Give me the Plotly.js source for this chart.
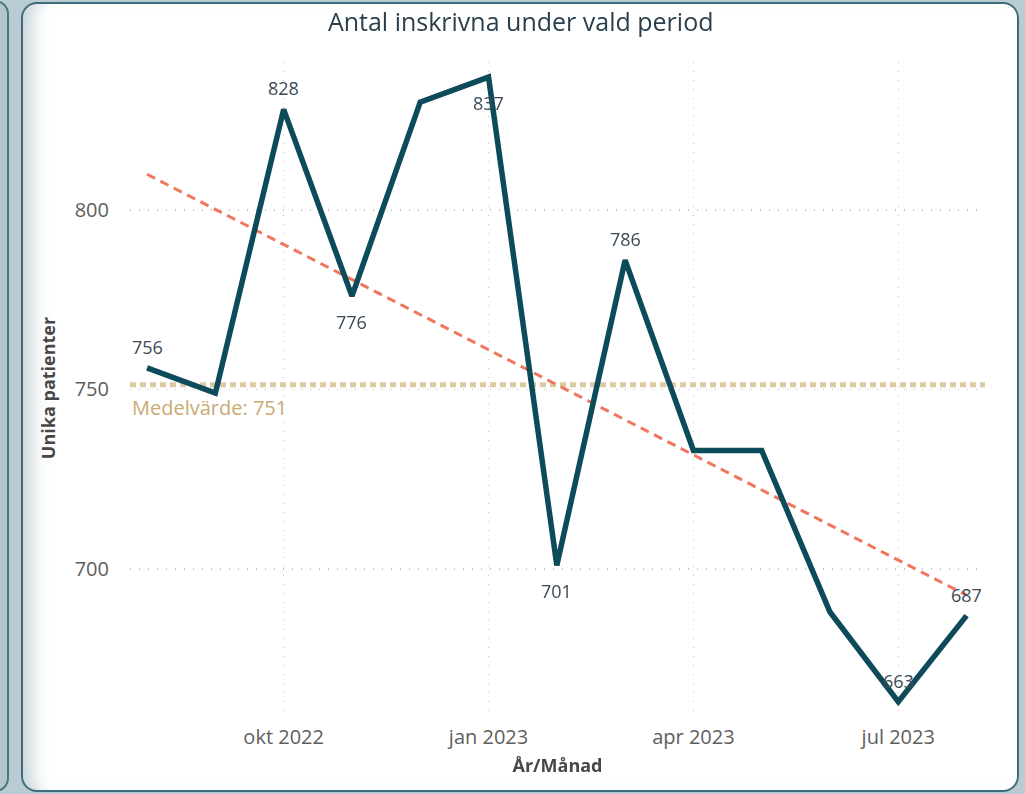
<!DOCTYPE html>
<html>
<head>
<meta charset="utf-8">
<script src="https://cdn.plot.ly/plotly-3.0.1.min.js"></script>
<style>
  html, body { margin:0; padding:0; width:1025px; height:794px; overflow:hidden; background:#b9cbd3; }
  #leftcard { position:absolute; left:-30px; top:0px; width:35px; height:788px; background:#b2c6ce; border:2px solid #4a7685; border-radius:14px; }
  #card { position:absolute; left:21px; top:2px; width:994px; height:786px; background:#ffffff; border:2px solid #3f6c7b; border-radius:16px; box-shadow: inset 22px 0 18px -14px rgba(150,170,180,0.55); }
  #chart { position:absolute; left:0; top:0; width:1025px; height:794px; }
</style>
</head>
<body>
<div id="leftcard"></div>
<div id="card"></div>
<div id="chart"></div>
<script>
// ---- data ----
var months = ["aug 2022","sep 2022","okt 2022","nov 2022","dec 2022","jan 2023","feb 2023","mar 2023","apr 2023","maj 2023","jun 2023","jul 2023","aug 2023"];
var patients = [756, 749, 828, 776, 830, 837, 701, 786, 733, 733, 688, 663, 687];
var showLabel = [true, false, true, true, false, true, true, true, false, false, false, true, true];
var labelAbove = [true, true, true, false, true, false, false, true, true, true, true, true, true];
var tickMonths = ["okt 2022","jan 2023","apr 2023","jul 2023"];
var yTicks = [700, 750, 800];
var titleText = "Antal inskrivna under vald period";
var xTitle = "År/Månad";
var yTitle = "Unika patienter";
var avgLabelPrefix = "Medelvärde: ";

// ---- derived: mean & linear trend ----
var n = patients.length;
var mean = patients.reduce(function(a,b){return a+b;},0)/n;
var xm = (n-1)/2, sxy = 0, sxx = 0;
for (var i=0;i<n;i++){ sxy += (i-xm)*(patients[i]-mean); sxx += (i-xm)*(i-xm); }
var slope = sxy/sxx;
var trend = patients.map(function(_,i){ return mean + slope*(i-xm); });

var font = "'Open Sans', 'Noto Sans', sans-serif";
var textCol = "#3b4a56";
var tickCol = "#605e5c";

var traces = [
  {
    x: months, y: trend, type:"scatter", mode:"lines",
    line:{color:"#f1765e", width:3, dash:"9px,6px"},
    hoverinfo:"skip", showlegend:false
  },
  {
    x: months, y: patients, type:"scatter", mode:"lines",
    line:{color:"#0d4a5a", width:5.5},
    showlegend:false
  }
];

var annotations = [
  {xref:"paper", x:0, yref:"y", y:mean, xanchor:"left", yanchor:"middle", yshift:-23, showarrow:false,
   text: avgLabelPrefix + Math.round(mean), font:{family:font, size:20, color:"#c9aa74"}}
];
patients.forEach(function(v,i){
  if (!showLabel[i]) return;
  annotations.push({x:months[i], y:v, xref:"x", yref:"y", showarrow:false, text:String(v),
    yanchor:"middle", xanchor:"center", yshift: labelAbove[i] ? 21 : -26,
    font:{family:font, size:18, color:textCol}});
});

var layout = {
  width:1025, height:794,
  paper_bgcolor:"rgba(0,0,0,0)", plot_bgcolor:"rgba(0,0,0,0)",
  margin:{l:130, r:40, t:62, b:80},
  font:{family:font, color:tickCol},
  title:{text:titleText, x:0.508, xref:"container", y:0.972, yref:"container", yanchor:"middle", xanchor:"center",
         font:{family:font, size:25, color:"#2a3f4d"}},
  xaxis:{
    type:"category", range:[-0.25, 12.27],
    tickmode:"array", tickvals:tickMonths, ticktext:tickMonths,
    showgrid:true, gridcolor:"#c4c4c4", griddash:"1px,8px", gridwidth:1.5,
    ticks:"", showline:false, zeroline:false, ticklabelstandoff:9,
    tickfont:{family:font, size:20, color:tickCol},
    title:{text:xTitle, standoff:10, font:{family:font, size:18, color:"#474747", weight:"bold"}}
  },
  yaxis:{
    range:[659.6, 841.2],
    tickmode:"array", tickvals:yTicks,
    showgrid:true, gridcolor:"#c4c4c4", griddash:"1px,8px", gridwidth:1.5,
    ticks:"", showline:false, zeroline:false, ticklabelstandoff:20,
    tickfont:{family:font, size:20, color:tickCol},
    title:{text:yTitle, standoff:14, font:{family:font, size:18, color:"#474747", weight:"bold"}}
  },
  shapes:[
    {type:"line", xref:"paper", x0:0, x1:1, yref:"y", y0:mean, y1:mean,
     line:{color:"#dccaa0", width:5, dash:"6px,4px"}, layer:"below"}
  ],
  annotations: annotations
};

Plotly.newPlot("chart", traces, layout, {displayModeBar:false, staticPlot:true});
</script>
</body>
</html>
